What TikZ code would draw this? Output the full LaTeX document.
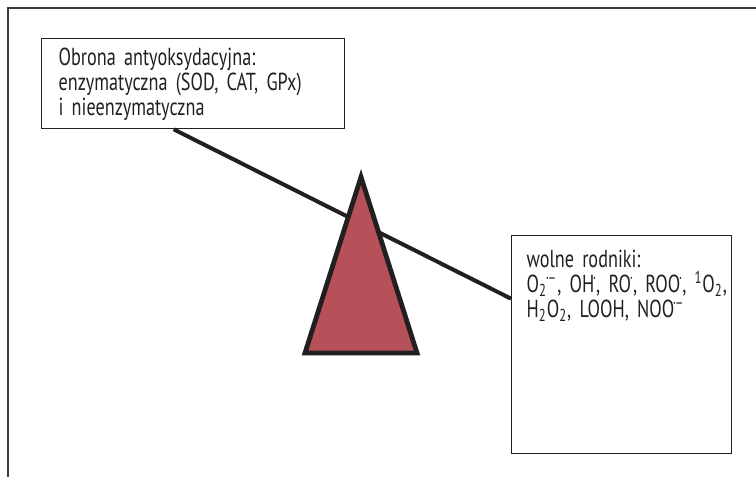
\documentclass[tikz,border=0pt]{standalone}
\usepackage{fontspec}
\setmainfont{PT Sans}[FakeStretch=0.74]
\usetikzlibrary{calc}
\definecolor{framegray}{HTML}{3A3A3A}
\definecolor{ink}{HTML}{231F20}
\definecolor{fulcrumred}{HTML}{B75159}
\newcommand{\radot}{\textsuperscript{\kern-0.7pt·\kern-0.5pt}}
\newcommand{\radion}{\textsuperscript{\kern-0.7pt·\kern-0.6pt–}}

\begin{document}
\begin{tikzpicture}[
  x=0.5pt, y=-0.5pt,
  box/.style={draw=ink, line width=0.65pt, anchor=north west, align=left, inner ysep=0pt, text=ink, font=\fontsize{12.3}{12.5}\selectfont},
  beam/.style={draw=ink, line width=2pt},
  fulcrum/.style={draw=ink, fill=fulcrumred, line width=2.4pt, line join=miter},
]
\useasboundingbox (0,0) rectangle (756,477);

% Frame
\draw[framegray, line width=0.75pt] (756,8) -- (8,8) -- (8,477);

% Boxes
\node[box, text width=134.5pt, inner xsep=8.5pt, text height=13.5pt, text depth=31.5pt] (defence) at (41,38)
  {Obrona antyoksydacyjna:\\enzymatyczna (SOD, CAT, GPx)\\i nieenzymatyczna};
\node[box, text width=95pt, inner xsep=7.5pt, text height=16pt, text depth=93pt] (radicals) at (511,235)
  {wolne rodniki:\\O\textsubscript{2}\radion,~OH\radot,~RO\radot,~ROO\radot,~\textsuperscript{1}O\textsubscript{2},\\H\textsubscript{2}O\textsubscript{2}, LOOH, NOO\radion};

% Beam
\draw[beam] ($(defence.south)+(-19.5,0)$) -- ($(radicals.west)+(0,-46)$);

% Fulcrum
\draw[fulcrum] (361,177) -- (417,353) -- (305,353) -- cycle;

\end{tikzpicture}
\end{document}
